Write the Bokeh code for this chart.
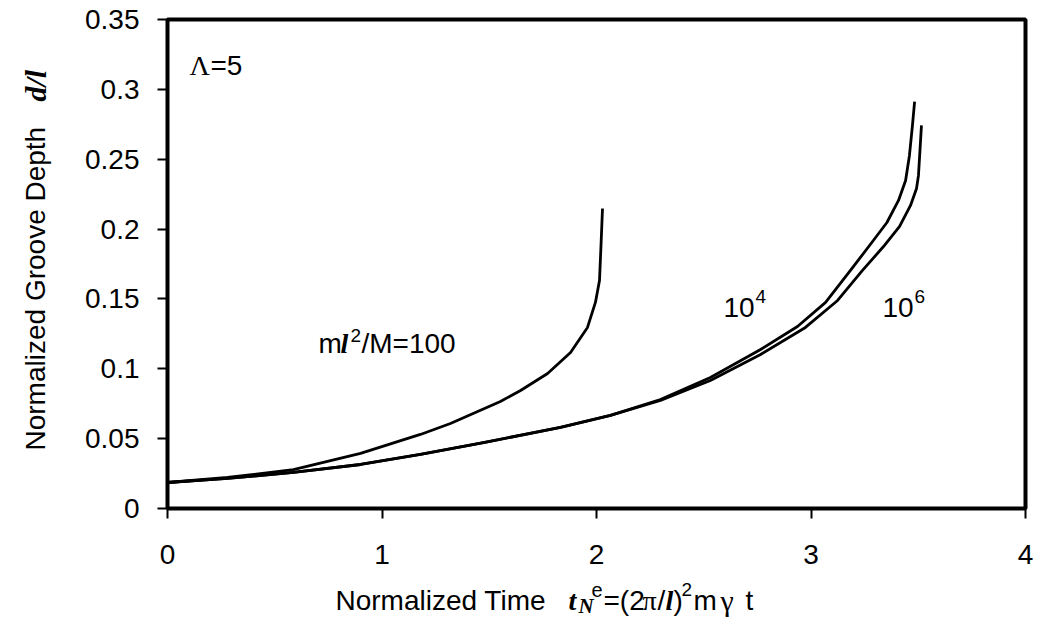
import math
from bokeh.plotting import figure
from bokeh.models import Label, FixedTicker, Range1d, BoxAnnotation
from bokeh.embed import file_html
from bokeh.resources import INLINE

# ---- data ----
x_100 = [0, 0.280, 0.587, 0.900, 1.179, 1.319, 1.552, 1.646, 1.772, 1.879, 1.958, 1.995, 2.014, 2.021, 2.028]
y_100 = [0.0186, 0.0222, 0.0279, 0.0394, 0.0530, 0.0608, 0.0766, 0.0845, 0.0966, 0.1117, 0.1296, 0.1475, 0.1632, 0.1883, 0.2147]

x_1e4 = [0, 0.280, 0.587, 0.900, 1.179, 1.473, 1.832, 2.065, 2.298, 2.531, 2.765, 2.937, 3.068, 3.184, 3.287, 3.354, 3.408, 3.441, 3.459, 3.473, 3.483]
y_1e4 = [0.0186, 0.0215, 0.0258, 0.0315, 0.0387, 0.0472, 0.0580, 0.0666, 0.0780, 0.0938, 0.1138, 0.1303, 0.1475, 0.1704, 0.1911, 0.2047, 0.2205, 0.2348, 0.2527, 0.2742, 0.2913]

x_1e6 = [0, 0.280, 0.587, 0.900, 1.179, 1.473, 1.832, 2.065, 2.298, 2.531, 2.765, 2.974, 3.124, 3.240, 3.338, 3.413, 3.464, 3.492, 3.501, 3.508, 3.515]
y_1e6 = [0.0186, 0.0215, 0.0258, 0.0315, 0.0387, 0.0472, 0.0580, 0.0666, 0.0773, 0.0916, 0.1102, 0.1296, 0.1489, 0.1704, 0.1875, 0.2019, 0.2169, 0.2291, 0.2384, 0.2563, 0.2742]

x_ticks = [0, 1, 2, 3, 4]
y_ticks = [0, 0.05, 0.1, 0.15, 0.2, 0.25, 0.3, 0.35]
y_tick_labels = ["0", "0.05", "0.1", "0.15", "0.2", "0.25", "0.3", "0.35"]

SANS = "Liberation Sans"
SERIF = "Liberation Serif"
FS = "28px"

# pixel geometry of the chart box
W, H = 1037, 617
BL, BR, BT, BB = 167, 1025, 19, 508
X0, X1, Y0, Y1 = 0, 4, 0, 0.35
SX = (BR - BL) / (X1 - X0)
SY = (BB - BT) / (Y1 - Y0)


def dx(px):
    return X0 + (px - BL) / SX


def dy(py):
    return Y0 + (BB - py) / SY


p = figure(width=W, height=H,
           x_range=Range1d(dx(0), dx(W)), y_range=Range1d(dy(H), dy(0)),
           output_backend="svg", toolbar_location=None, min_border=0)
p.grid.visible = False
p.background_fill_color = "white"
p.border_fill_color = "white"
p.outline_line_color = None

for ax in (p.xaxis[0], p.yaxis[0]):
    ax.fixed_location = 0
    ax.axis_line_color = None
    ax.major_tick_in = 0
    ax.major_tick_out = 10
    ax.major_tick_line_width = 2
    ax.major_tick_line_color = "black"
    ax.minor_tick_line_color = None
    ax.major_label_text_font = SANS
    ax.major_label_text_font_size = FS
    ax.major_label_text_color = "black"

p.xaxis.ticker = FixedTicker(ticks=x_ticks)
p.yaxis.ticker = FixedTicker(ticks=y_ticks)
p.yaxis.major_label_overrides = {t: s for t, s in zip(y_ticks, y_tick_labels)}
p.xaxis.major_label_standoff = 26
p.yaxis.major_label_standoff = 18

p.add_layout(BoxAnnotation(left=X0, right=X1, bottom=Y0, top=Y1,
                           fill_color=None, fill_alpha=0,
                           line_color="black", line_alpha=1.0, line_width=4))

for xs, ys in ((x_100, y_100), (x_1e4, y_1e4), (x_1e6, y_1e6)):
    p.line(xs, ys, line_color="black", line_width=2.8, line_join="round")


def lab(px, py, text, font=SANS, size=FS, style="normal", angle=0):
    p.add_layout(Label(x=dx(px), y=dy(py), text=text, text_font=font,
                       text_font_size=size, text_font_style=style,
                       text_color="black", text_align="left",
                       text_baseline="alphabetic", angle=angle))


# in-plot annotations
lab(189, 65, "\u039b", font=SERIF)
lab(210, 65, "=5")
lab(318, 343, "m")
lab(340, 343, "l", font=SERIF, style="bold italic")
lab(350, 335, "2", size="19px")
lab(361, 343, "/M=100")
lab(723, 307, "10")
lab(755, 296, "4", size="19px")
lab(882, 307, "10")
lab(914, 296, "6", size="19px")

# x-axis title
BX = 600
lab(335, BX, "Normalized Time")
lab(568, BX, "t", font=SERIF, style="bold italic")
lab(578, BX + 5, "N", font=SERIF, size="21px", style="bold italic")
lab(591, BX - 11, "e", size="20px")
lab(603, BX, "=(2")
lab(642, BX, "\u03c0", font=SERIF)
lab(657, BX, "/")
lab(665, BX, "l", font=SERIF, style="bold italic")
lab(673, BX, ")")
lab(681, BX - 11, "2", size="19px")
lab(693, BX, "m")
lab(720, BX, "\u03b3", font=SERIF, size="30px")
lab(745, BX, "t")

# y-axis title (rotated)
lab(35, 450, "Normalized Groove Depth", angle=math.pi / 2)
lab(35, 101, "d/l", font=SERIF, size="30px", style="bold italic", angle=math.pi / 2)

open("out.html", "w").write(file_html(p, INLINE))
